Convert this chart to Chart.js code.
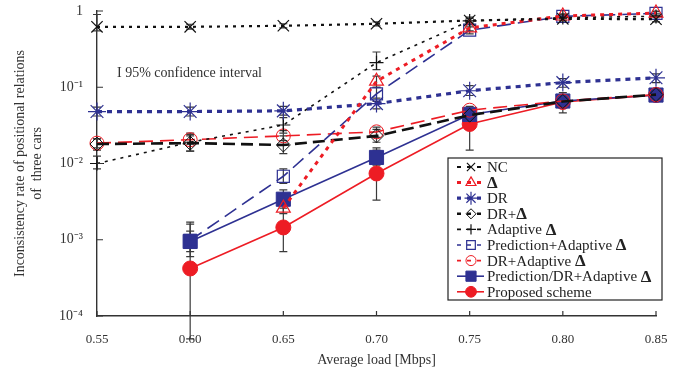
<!DOCTYPE html>
<html>
<head>
<meta charset="utf-8">
<script src="https://cdn.jsdelivr.net/npm/chart.js@4.4.1/dist/chart.umd.min.js"></script>
<style>
html,body{margin:0;padding:0;background:#fff;}
#wrap{position:relative;width:691px;height:373px;}
</style>
</head>
<body>
<div id="wrap"><canvas id="c" width="691" height="373"></canvas></div>
<script>
// ---- data ----
const loads = [0.55, 0.60, 0.65, 0.70, 0.75, 0.80, 0.85];
const xTickLabels = ['0.55','0.60','0.65','0.70','0.75','0.80','0.85'];
const yTickValues = [1e-4, 1e-3, 1e-2, 1e-1, 1];
const yTickLabels = ['10\u207B\u2074','10\u207B\u00B3','10\u207B\u00B2','10\u207B\u00B9','1'];

const seriesNames = ['NC','\u0394','DR','DR+\u0394','Adaptive \u0394','Prediction+Adaptive \u0394','DR+Adaptive \u0394','Prediction/DR+Adaptive \u0394','Proposed scheme'];

const nc            = [0.62, 0.62, 0.64, 0.68, 0.75, 0.79, 0.78];
const delta         = [null, null, 0.0026, 0.12, 0.60, 0.86, 0.94];
const dr            = [0.048, 0.048, 0.049, 0.061, 0.090, 0.115, 0.133];
const drDelta       = [0.018, 0.0185, 0.0175, 0.023, 0.043, 0.065, 0.080];
const adaptive      = [0.010, 0.019, 0.032, 0.21, 0.74, 0.82, 0.85];
const predAdaptive  = [null, 0.00098, 0.0068, 0.082, 0.56, 0.85, 0.93];
const drAdaptive    = [0.0185, 0.0205, 0.023, 0.026, 0.050, 0.066, 0.080];
const predDrAdaptive= [null, 0.00095, 0.0034, 0.012, 0.044, 0.066, 0.079];
const proposed      = [null, 0.00042, 0.00145, 0.0074, 0.033, 0.064, 0.079];

// 95% confidence intervals [low, high]
const ncErr       = [[0.55,0.9],[0.58,0.67],[0.6,0.68],[0.64,0.72],[0.7,0.8],[0.74,0.84],[0.72,0.84]];
const deltaErr    = [null,null,[0.0022,0.0031],[0.10,0.14],[0.55,0.66],[0.8,0.92],[0.88,1.0]];
const drErr       = [[0.042,0.055],[0.042,0.055],[0.043,0.056],[0.052,0.072],[0.078,0.105],[0.1,0.13],[0.115,0.15]];
const drDeltaErr  = [[0.015,0.021],[0.0145,0.024],[0.0135,0.023],[0.019,0.028],[0.038,0.048],[0.058,0.072],[0.072,0.088]];
const adaptiveErr = [[0.0085,0.0125],[0.0145,0.025],[0.025,0.040],[0.17,0.29],[0.66,0.83],[0.76,0.88],[0.78,0.92]];
const predAdErr   = [null,[0.0007,0.0013],[0.0055,0.0085],[0.065,0.1],[0.5,0.62],[0.8,0.9],[0.88,0.98]];
const drAdErr     = [[0.016,0.021],[0.018,0.023],[0.02,0.027],[0.022,0.03],[0.044,0.056],[0.06,0.073],[0.072,0.088]];
const predDrErr   = [null,[0.0006,0.0016],[0.0026,0.0045],[0.0095,0.015],[0.037,0.05],[0.058,0.075],[0.072,0.087]];
const proposedErr = [null,[0.00005,0.0017],[0.0007,0.0028],[0.0033,0.016],[0.015,0.05],[0.046,0.085],[0.07,0.088]];

const BLUE = '#2e3192';
const RED = '#ed1c24';
const BLACK = '#111111';

function pts(arr){ return loads.map((x,i)=>({x:x, y:arr[i]})); }

const datasets = [
  {label:seriesNames[0], data:pts(nc), borderColor:BLACK, borderWidth:2.2, borderDash:[3,5], pointStyle:'crossRot', pointRadius:8, pointBorderWidth:1.2, pointBorderColor:BLACK, pointBackgroundColor:BLACK, err:ncErr},
  {label:seriesNames[1], data:pts(delta), borderColor:RED, borderWidth:3, borderDash:[4,5], pointStyle:'triangle', pointRadius:8, pointBorderWidth:1.2, pointBorderColor:RED, pointBackgroundColor:'rgba(255,255,255,0)', err:deltaErr},
  {label:seriesNames[2], data:pts(dr), borderColor:BLUE, borderWidth:3.2, borderDash:[5,5], pointStyle:'star', pointRadius:9, pointBorderWidth:1.2, pointBorderColor:BLUE, pointBackgroundColor:BLUE, err:drErr},
  {label:seriesNames[3], data:pts(drDelta), borderColor:BLACK, borderWidth:2.6, borderDash:[12,6], pointStyle:'rectRot', pointRadius:7, pointBorderWidth:1, pointBorderColor:BLACK, pointBackgroundColor:'rgba(255,255,255,0)', err:drDeltaErr},
  {label:seriesNames[4], data:pts(adaptive), borderColor:BLACK, borderWidth:1.6, borderDash:[3,5], pointStyle:'cross', pointRadius:7, pointBorderWidth:1.2, pointBorderColor:BLACK, pointBackgroundColor:BLACK, err:adaptiveErr},
  {label:seriesNames[5], data:pts(predAdaptive), borderColor:BLUE, borderWidth:1.6, borderDash:[14,7], pointStyle:'rect', pointRadius:8.5, pointBorderWidth:1.2, pointBorderColor:BLUE, pointBackgroundColor:'rgba(255,255,255,0)', err:predAdErr},
  {label:seriesNames[6], data:pts(drAdaptive), borderColor:RED, borderWidth:1.6, borderDash:[14,7], pointStyle:'circle', pointRadius:7, pointBorderWidth:1, pointBorderColor:RED, pointBackgroundColor:'rgba(255,255,255,0)', err:drAdErr},
  {label:seriesNames[7], data:pts(predDrAdaptive), borderColor:BLUE, borderWidth:1.6, borderDash:[], pointStyle:'rect', pointRadius:10, pointBorderWidth:1, pointBorderColor:BLUE, pointBackgroundColor:BLUE, err:predDrErr},
  {label:seriesNames[8], data:pts(proposed), borderColor:RED, borderWidth:1.6, borderDash:[], pointStyle:'circle', pointRadius:7.5, pointBorderWidth:1, pointBorderColor:RED, pointBackgroundColor:RED, err:proposedErr}
];
datasets.forEach(d=>{ d.fill=false; d.tension=0; d.spanGaps=false; d.clip=false; d.pointHoverRadius=d.pointRadius; });

const SERIF = '"Liberation Serif", "Times New Roman", serif';

// error bars drawn beneath series
const errorBarPlugin = {
  id:'errorBars',
  beforeDatasetsDraw(chart){
    const ctx = chart.ctx, xs = chart.scales.x, ys = chart.scales.y;
    ctx.save();
    ctx.strokeStyle = '#3a3a3a';
    ctx.lineWidth = 1.2;
    chart.data.datasets.forEach(ds=>{
      (ds.err||[]).forEach((e,i)=>{
        if(!e) return;
        const px = xs.getPixelForValue(loads[i]);
        const y1 = ys.getPixelForValue(e[0]);
        const y2 = ys.getPixelForValue(e[1]);
        ctx.beginPath();
        ctx.moveTo(px,y1); ctx.lineTo(px,y2);
        ctx.moveTo(px-4,y1); ctx.lineTo(px+4,y1);
        ctx.moveTo(px-4,y2); ctx.lineTo(px+4,y2);
        ctx.stroke();
      });
    });
    ctx.restore();
  }
};

// inward axis ticks
const tickPlugin = {
  id:'inTicks',
  afterDraw(chart){
    const ctx = chart.ctx, xs = chart.scales.x, ys = chart.scales.y;
    const a = chart.chartArea;
    ctx.save();
    ctx.strokeStyle = '#333';
    ctx.lineWidth = 1.2;
    ctx.beginPath();
    loads.forEach(v=>{ const p = xs.getPixelForValue(v); ctx.moveTo(p,a.bottom); ctx.lineTo(p,a.bottom-5); });
    yTickValues.forEach(v=>{ const p = ys.getPixelForValue(v); ctx.moveTo(a.left,p); ctx.lineTo(a.left+6,p); });
    ctx.stroke();
    ctx.restore();
  }
};

// legend box & annotation
const legendPlugin = {
  id:'boxLegend',
  afterDraw(chart){
    const ctx = chart.ctx;
    const bx = 448, by = 158, bw = 214, bh = 142;
    ctx.save();
    ctx.fillStyle = '#fff';
    ctx.fillRect(bx,by,bw,bh);
    ctx.strokeStyle = '#222'; ctx.lineWidth = 1.2;
    ctx.strokeRect(bx,by,bw,bh);
    const rowH = 15.6, y0 = 167;
    chart.data.datasets.forEach((ds,i)=>{
      const y = y0 + i*rowH;
      ctx.save();
      ctx.strokeStyle = ds.borderColor;
      ctx.lineWidth = ds.borderWidth;
      ctx.setLineDash(ds.borderDash && ds.borderDash.length ? [4,6] : []);
      ctx.beginPath(); ctx.moveTo(457,y); ctx.lineTo(484,y); ctx.stroke();
      ctx.restore();
      ctx.save();
      ctx.strokeStyle = ds.pointBorderColor; ctx.fillStyle = ds.pointBackgroundColor;
      ctx.lineWidth = ds.pointBorderWidth;
      ctx.setLineDash([]);
      Chart.helpers.drawPoint(ctx, {pointStyle:ds.pointStyle, rotation:0, radius:ds.pointRadius*0.72, borderWidth:ds.pointBorderWidth}, 471, y);
      ctx.restore();
      // label text; the Δ glyph is bold & larger
      const name = ds.label;
      ctx.fillStyle = '#222'; ctx.textBaseline = 'middle'; ctx.textAlign = 'left';
      let x = 487;
      const parts = name.split('\u0394');
      parts.forEach((p,k)=>{
        ctx.font = '15px ' + SERIF;
        ctx.fillText(p, x, y+1);
        x += ctx.measureText(p).width;
        if(k < parts.length-1){
          ctx.font = 'bold 17px ' + SERIF;
          ctx.fillText('\u0394', x, y+1);
          x += ctx.measureText('\u0394').width;
        }
      });
    });
    ctx.font = '14px ' + SERIF;
    ctx.fillStyle = '#333';
    ctx.textBaseline = 'middle';
    ctx.fillText('I 95% confidence interval', 117, 73);
    ctx.restore();
  }
};

new Chart(document.getElementById('c'), {
  type:'line',
  data:{datasets:datasets},
  options:{
    responsive:false,
    animation:false,
    layout:{padding:{top:0, right:35, left:0, bottom:0}},
    plugins:{legend:{display:false}, tooltip:{enabled:false}},
    scales:{
      x:{
        type:'linear', min:0.55, max:0.85,
        afterBuildTicks(s){ s.ticks = loads.map(v=>({value:v})); },
        ticks:{ callback:(v,i)=>xTickLabels[i], font:{family:SERIF, size:13}, color:'#333', padding:8, maxRotation:0, autoSkip:false },
        grid:{display:false},
        border:{display:true, color:'#333', width:1.4},
        title:{display:true, text:'Average load [Mbps]', font:{family:SERIF, size:14}, color:'#333', padding:{top:4}},
        afterFit(s){ s.height = 57; }
      },
      y:{
        type:'logarithmic', min:1e-4, max:1,
        afterBuildTicks(s){ s.ticks = yTickValues.map(v=>({value:v})); },
        ticks:{ callback:(v,i)=>yTickLabels[i], font:{family:SERIF, size:14, lineHeight:0.57}, color:'#333', padding:6, autoSkip:false },
        grid:{display:false},
        border:{display:true, color:'#333', width:1.4},
        title:{display:true, text:['Inconsistency rate of positional relations','of  three cars'], font:{family:SERIF, size:14, lineHeight:1.2}, color:'#333', padding:{top:12,bottom:0}},
        afterFit(s){ s.width = 97; }
      }
    }
  },
  plugins:[errorBarPlugin, tickPlugin, legendPlugin]
});
</script>
</body>
</html>
